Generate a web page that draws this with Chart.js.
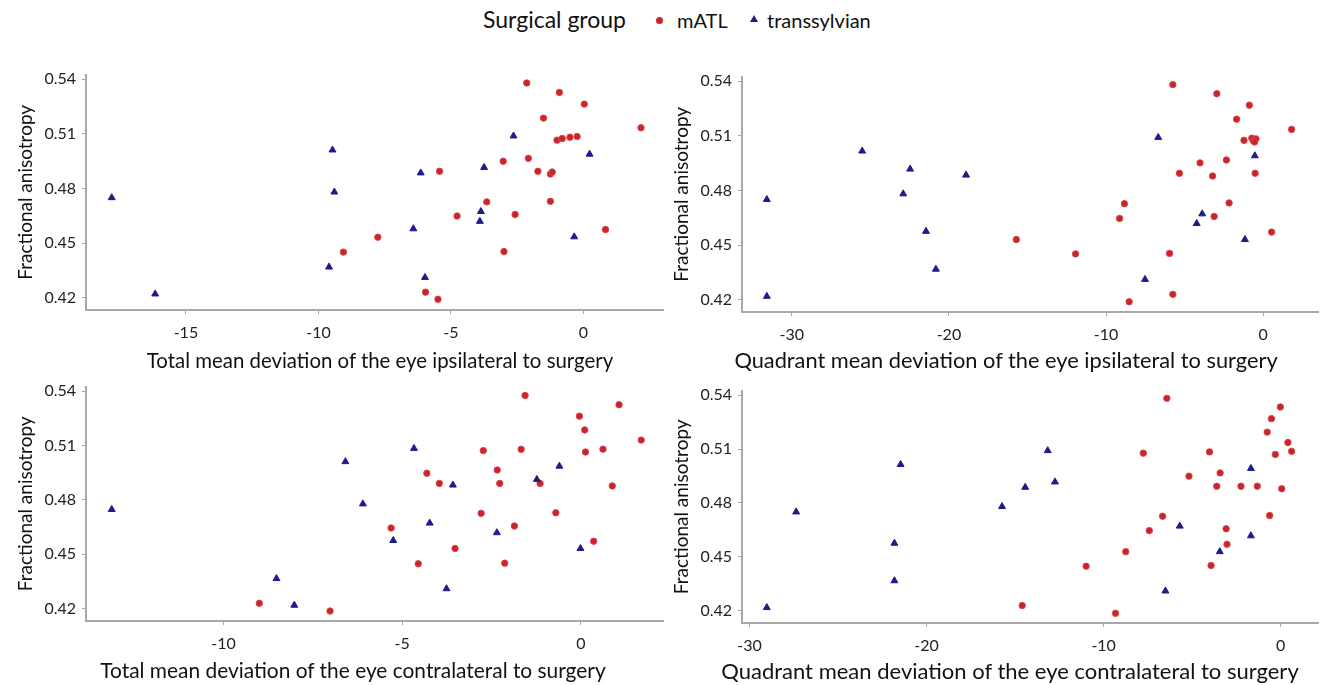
<!DOCTYPE html>
<html><head><meta charset="utf-8">
<script src="https://cdn.jsdelivr.net/npm/chart.js@4.4.1/dist/chart.umd.min.js"></script>
<style>
html,body{margin:0;padding:0;width:1323px;height:685px;overflow:hidden;background:#fff;font-family:Lato,"Open Sans",sans-serif;color:#111}
canvas.c{position:absolute}
.lg{position:absolute;top:8px;font-size:20px;line-height:24px;white-space:nowrap;color:#111}
.lgt{position:absolute;top:6px;font-size:23px;line-height:27px;white-space:nowrap;color:#111}
.dot{position:absolute;top:17px;width:7px;height:7px;border-radius:50%;background:#cc2229}
.tri{position:absolute;top:15px;width:0;height:0;border-left:4px solid transparent;border-right:4px solid transparent;border-bottom:7px solid #1c1c8a}
.xt{position:absolute;width:700px;text-align:center;line-height:26px;white-space:nowrap;color:#111}
</style></head><body>
<div class="lgt" style="left:483px">Surgical group</div>
<div class="dot" style="left:656px"></div>
<div class="lg" style="left:677px">mATL</div>
<div class="tri" style="left:750px"></div>
<div class="lg" style="left:767px">transsylvian</div>
<canvas class="c" id="tl" width="670" height="317" style="left:0;top:59px"></canvas>
<canvas class="c" id="tr" width="667" height="317" style="left:656px;top:61px"></canvas>
<canvas class="c" id="bl" width="670" height="316" style="left:0;top:371px"></canvas>
<canvas class="c" id="br" width="667" height="314" style="left:656px;top:375px"></canvas>
<div class="xt" id="t_tl" style="left:30px;top:347px;font-size:20.4px"></div>
<div class="xt" id="t_tr" style="left:656px;top:347px;font-size:21.8px"></div>
<div class="xt" id="t_bl" style="left:3px;top:657px;font-size:20.9px"></div>
<div class="xt" id="t_br" style="left:660px;top:658px;font-size:22px"></div>
<script>
// ---- tick labels / axis titles ----
const yTickValues = [0.42, 0.45, 0.48, 0.51, 0.54];
const yTickLabels = ["0.42", "0.45", "0.48", "0.51", "0.54"];
const tlXTicks = [-15, -10, -5, 0];
const trXTicks = [-30, -20, -10, 0];
const blXTicks = [-10, -5, 0];
const brXTicks = [-30, -20, -10, 0];
const yTitle = 'Fractional anisotropy';
const xTitles = {
  tl: 'Total mean deviation of the eye ipsilateral to surgery',
  tr: 'Quadrant mean deviation of the eye ipsilateral to surgery',
  bl: 'Total mean deviation of the eye contralateral to surgery',
  br: 'Quadrant mean deviation of the eye contralateral to surgery'
};

// ---- Total MD, ipsilateral eye ----
const tlMatlX = [-2.14,-0.91,0.03,-1.51,2.17,-1.00,-0.80,-0.51,-0.24,-3.03,-2.08,-5.43,-1.72,-1.25,-1.18,-3.65,-1.25,-4.77,-2.58,-7.76,0.83,-3.00,-9.06,-5.96,-5.49];
const tlMatlY = [0.5379,0.5327,0.5263,0.5186,0.5133,0.5065,0.5074,0.5081,0.5085,0.4949,0.4965,0.4894,0.4894,0.4879,0.4890,0.4726,0.4729,0.4648,0.4657,0.4532,0.4574,0.4453,0.4450,0.4230,0.4191];
const tlTransX = [-17.8,-16.16,-9.47,-9.40,-9.60,-2.64,0.23,-6.14,-3.75,-3.87,-3.91,-6.42,-0.35,-5.98];
const tlTransY = [0.4749,0.4220,0.5011,0.4780,0.4368,0.5088,0.4988,0.4885,0.4915,0.4673,0.4619,0.4578,0.4534,0.4311];

// ---- Quadrant MD, ipsilateral eye ----
const trMatlX = [-5.75,-2.95,-0.88,-1.69,1.81,-1.22,-0.72,-0.46,-0.63,-0.55,-4.02,-2.34,-5.33,-3.22,-0.51,-8.83,-2.17,-9.14,-3.12,0.54,-15.71,-11.94,-5.96,-5.75,-8.53];
const trMatlY = [0.5381,0.5331,0.5268,0.5191,0.5135,0.5075,0.5087,0.5083,0.5073,0.5066,0.4951,0.4967,0.4894,0.4879,0.4894,0.4727,0.4731,0.4646,0.4657,0.4571,0.4530,0.4451,0.4454,0.4229,0.4188];
const trTransX = [-31.59,-31.59,-25.52,-22.47,-22.91,-18.91,-21.46,-20.83,-6.68,-0.53,-3.88,-4.23,-1.16,-7.52];
const trTransY = [0.4750,0.4218,0.5016,0.4917,0.4781,0.4884,0.4575,0.4367,0.5091,0.4990,0.4671,0.4618,0.4530,0.4311];

// ---- Total MD, contralateral eye ----
const blMatlX = [-1.56,1.07,-0.04,0.11,1.69,-2.73,-1.67,0.13,0.62,-4.31,-2.34,-3.96,-2.27,-1.14,0.88,-2.79,-0.70,-5.31,-1.86,0.36,-3.52,-4.55,-2.13,-9.00,-7.02];
const blMatlY = [0.5376,0.5325,0.5262,0.5186,0.5130,0.5072,0.5079,0.5064,0.5080,0.4947,0.4965,0.4891,0.4891,0.4891,0.4877,0.4726,0.4729,0.4645,0.4656,0.4572,0.4532,0.4448,0.4451,0.4230,0.4187];
const blTransX = [-13.13,-6.59,-6.10,-8.52,-8.02,-4.67,-0.60,-3.58,-1.23,-4.23,-2.35,-5.25,-0.01,-3.76];
const blTransY = [0.4747,0.5011,0.4778,0.4366,0.4219,0.5084,0.4986,0.4882,0.4913,0.4672,0.4619,0.4576,0.4532,0.4310];

// ---- Quadrant MD, contralateral eye ----
const brMatlX = [-6.43,-0.02,-0.52,-0.76,0.41,0.62,-0.30,-7.76,-4.02,-5.18,-3.42,-3.61,-2.24,-1.32,0.06,-6.67,-0.62,-7.42,-3.08,-3.03,-8.75,-10.99,-3.93,-9.33,-14.60];
const brMatlY = [0.5382,0.5334,0.5269,0.5194,0.5136,0.5087,0.5070,0.5077,0.5084,0.4949,0.4967,0.4893,0.4893,0.4893,0.4879,0.4726,0.4730,0.4646,0.4656,0.4570,0.4529,0.4448,0.4452,0.4186,0.4229];
const brTransX = [-29.03,-27.37,-21.47,-21.82,-21.82,-15.74,-14.43,-13.16,-12.75,-1.68,-5.70,-1.68,-3.44,-6.51];
const brTransY = [0.4218,0.4750,0.5014,0.4576,0.4367,0.4780,0.4887,0.5091,0.4917,0.4992,0.4671,0.4617,0.4529,0.4310];

const FONT = 'Lato';
const AXIS_COLOR = '#a8a8a8';
const pts = (xs, ys) => xs.map((x, i) => ({x: x, y: ys[i]}));

for (const k in xTitles) document.getElementById('t_' + k).textContent = xTitles[k];

function makeChart(id, cfg) {
  new Chart(document.getElementById(id), {
    type: 'scatter',
    data: {
      datasets: [
        {label: 'transsylvian', data: pts(cfg.tX, cfg.tY), pointStyle: 'triangle', pointRadius: 4,
         backgroundColor: '#1c1c8a', borderColor: '#1c1c8a', borderWidth: 1},
        {label: 'mATL', data: pts(cfg.mX, cfg.mY), pointStyle: 'circle', pointRadius: 3.2,
         backgroundColor: '#cc2229', borderColor: '#d6454a', borderWidth: 1}
      ]
    },
    options: {
      responsive: false, animation: false, devicePixelRatio: 1,
      layout: {padding: {top: 10, right: cfg.padR, bottom: 0, left: 0}},
      plugins: {legend: {display: false}, tooltip: {enabled: false}},
      scales: {
        x: {
          type: 'linear', min: cfg.xMin, max: cfg.xMax,
          afterBuildTicks: s => { s.ticks = cfg.xTicks.map(v => ({value: v})); },
          afterFit: s => { s.height = 66; },
          grid: {drawOnChartArea: false, drawTicks: true, tickLength: 4, color: AXIS_COLOR},
          border: {display: true, color: AXIS_COLOR, width: 2},
          ticks: {font: {family: FONT, size: 16}, color: '#222', padding: 9, maxRotation: 0},
          title: {display: false}
        },
        y: {
          type: 'linear', min: 0.4132, max: 0.5425,
          afterBuildTicks: s => { s.ticks = yTickValues.map(v => ({value: v})); },
          afterFit: s => { s.width = 86; },
          grid: {drawOnChartArea: false, drawTicks: true, tickLength: 4, color: AXIS_COLOR},
          border: {display: true, color: AXIS_COLOR, width: 2},
          ticks: {font: {family: FONT, size: 16}, color: '#222', padding: 6,
                  callback: (v, i) => yTickLabels[i]},
          title: {display: true, text: yTitle, font: {family: FONT, size: 19}, color: '#111', padding: {top: 14, bottom: 0}}
        }
      }
    }
  });
}

makeChart('tl', {mX: tlMatlX, mY: tlMatlY, tX: tlTransX, tY: tlTransY, xMin: -18.77, xMax: 3.0, xTicks: tlXTicks, padR: 7});
makeChart('tr', {mX: trMatlX, mY: trMatlY, tX: trTransX, tY: trTransY, xMin: -33.17, xMax: 3.49, xTicks: trXTicks, padR: 1});
makeChart('bl', {mX: blMatlX, mY: blMatlY, tX: blTransX, tY: blTransY, xMin: -13.85, xMax: 2.30, xTicks: blXTicks, padR: 7});
makeChart('br', {mX: brMatlX, mY: brMatlY, tX: brTransX, tY: brTransY, xMin: -30.43, xMax: 2.11, xTicks: brXTicks, padR: 1});
</script>
</body></html>
